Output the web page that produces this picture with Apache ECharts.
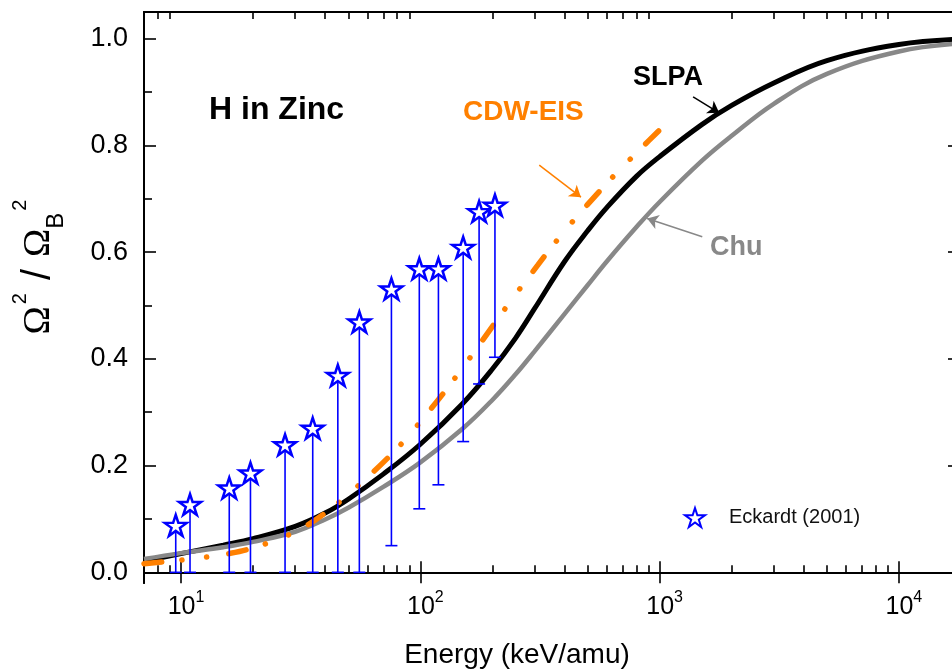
<!DOCTYPE html>
<html>
<head>
<meta charset="utf-8">
<script src="https://cdn.jsdelivr.net/npm/echarts@6/dist/echarts.min.js"></script>
<style>
html,body{margin:0;padding:0;background:#fff;}
#chart{width:952px;height:672px;}
</style>
</head>
<body>
<div id="chart"></div>
<script>
// ---- data ----
const energyCurve = [7,10,15,20,30,40,50,70,100,150,200,250,300,400,500,600,800,1000,1500,2000,3000,5000,10000,18000];
const slpa = [0.021,0.035,0.051,0.063,0.086,0.111,0.137,0.184,0.240,0.316,0.381,0.439,0.494,0.582,0.640,0.683,0.742,0.779,0.839,0.875,0.917,0.959,0.989,0.999];
const chu  = [0.025,0.036,0.047,0.057,0.076,0.099,0.121,0.160,0.206,0.269,0.323,0.371,0.414,0.484,0.538,0.582,0.647,0.694,0.771,0.818,0.878,0.934,0.976,0.991];
const energyCdw = [7,10,13,15,20,30,40,50,60,70,85,100,125,150,180,210,240,280,310,350,400,460,540,625,745,860,1000];
const cdwEis = [0.016,0.023,0.029,0.033,0.046,0.076,0.111,0.146,0.178,0.206,0.245,0.282,0.336,0.383,0.432,0.474,0.510,0.550,0.576,0.607,0.639,0.671,0.706,0.737,0.772,0.800,0.829];
const eckEnergy = [9.5,10.9,15.9,19.5,27.2,35.5,45.2,55.6,75.7,99,119,151,176,205];
const eckValue  = [0.088,0.127,0.158,0.186,0.239,0.270,0.369,0.469,0.531,0.569,0.569,0.609,0.676,0.688];
const eckLower  = [0,0,0,0,0,0,0,0,0.050,0.119,0.164,0.245,0.353,0.403];
const xMajorTicks = [10,100,1000,10000];
const xMinorTicks = [8,9,20,30,40,50,60,70,80,90,200,300,400,500,600,700,800,900,2000,3000,4000,5000,6000,7000,8000,9000];
const yMajorTicks = [0,0.2,0.4,0.6,0.8,1.0];
const yMinorTicks = [0.1,0.3,0.5,0.7,0.9];
// annotation arrows (data coords): [startE, startY, endE, endY]
const arrowSLPA = [1380,0.891,1774,0.861];
const arrowCDW  = [314,0.763,469,0.703];
const arrowChu  = [1507,0.629,887,0.663];

// ---- chart ----
const FONT = '"Liberation Sans", Arial, sans-serif';
const XMIN = 7, XMAX = 18000, YMIN = -0.02, YMAX = 1.05;
const starPath = 'path://M50 0 L61.23 34.55 L97.55 34.55 L68.16 55.9 L79.39 90.45 L50 69.1 L20.61 90.45 L31.84 55.9 L2.45 34.55 L38.77 34.55 Z';

const zip = (xs, ys) => xs.map((x, i) => [x, ys[i]]);
const lg = v => Math.log10(v);

function deco(pos, vals, len, labels) {
  const horiz = (pos === 'top' || pos === 'bottom');
  return {
    type: 'value', position: pos,
    min: horiz ? lg(XMIN) : YMIN,
    max: horiz ? lg(XMAX) : YMAX,
    axisLine: {show: true, lineStyle: {color: '#000', width: 2}},
    splitLine: {show: false},
    axisTick: {show: true, inside: true, length: len, customValues: vals, lineStyle: {color: '#000', width: 1.6}},
    axisLabel: labels || {show: false}
  };
}

const xLab = {
  show: true, customValues: xMajorTicks.map(lg), margin: 7, padding: [0,0,0,10],
  formatter: v => '{b|10}{s|' + Math.round(v) + '}',
  rich: {
    b: {fontFamily: FONT, fontSize: 25, lineHeight: 30, verticalAlign: 'bottom', color: '#000'},
    s: {fontFamily: FONT, fontSize: 16, lineHeight: 16, verticalAlign: 'top', color: '#000'}
  }
};
const yLab = {
  show: true, customValues: yMajorTicks, margin: 16, padding: [7,0,0,0],
  formatter: v => v.toFixed(1),
  fontFamily: FONT, fontSize: 27, color: '#000'
};

const chart = echarts.init(document.getElementById('chart'), null, {renderer: 'canvas'});

function arrow(a, color) {
  return {
    silent: true, symbol: ['none', 'arrow'], symbolSize: 11, animation: false,
    label: {show: false},
    lineStyle: {type: 'solid', width: 1.5, color: color, opacity: 1},
    itemStyle: {color: color},
    emphasis: {disabled: true},
    data: [[{coord: [a[0], a[1]]}, {coord: [a[2], a[3]]}]]
  };
}

const option = {
  animation: false,
  backgroundColor: '#fff',
  grid: {left: 144, top: 12, width: 816, height: 571, containLabel: false, outerBoundsMode: 'none'},
  xAxis: [
    {type: 'log', logBase: 10, min: XMIN, max: XMAX, show: false},
    deco('bottom', xMajorTicks.map(lg), 11, xLab),
    deco('bottom', xMinorTicks.map(lg), 7),
    deco('top', xMajorTicks.map(lg), 11),
    deco('top', xMinorTicks.map(lg), 7)
  ],
  yAxis: [
    deco('left', yMajorTicks, 12, yLab),
    deco('left', yMinorTicks, 8),
    deco('right', yMajorTicks, 12),
    deco('right', yMinorTicks, 8)
  ],
  legend: {
    data: ['Eckardt (2001)'], left: 679, top: 502, orient: 'vertical',
    itemWidth: 20, itemHeight: 20, icon: starPath,
    textStyle: {fontFamily: FONT, fontSize: 20, color: '#111', padding: [0,0,0,19]}
  },
  series: [
    {
      name: 'SLPA', type: 'line', xAxisIndex: 0, yAxisIndex: 0, data: zip(energyCurve, slpa),
      showSymbol: false, smooth: 0.4, lineStyle: {color: '#000', width: 5}, z: 3,
      markLine: arrow(arrowSLPA, '#000')
    },
    {
      name: 'Chu', type: 'line', xAxisIndex: 0, yAxisIndex: 0, data: zip(energyCurve, chu),
      showSymbol: false, smooth: 0.4, lineStyle: {color: '#888888', width: 4.5}, z: 4,
      markLine: arrow(arrowChu, '#888888')
    },
    {
      name: 'CDW-EIS', type: 'line', xAxisIndex: 0, yAxisIndex: 0, data: zip(energyCdw, cdwEis),
      showSymbol: false, smooth: 0.4,
      lineStyle: {color: '#ff8000', width: 5.5, cap: 'round', type: [18, 20, 0.1, 25, 0.1, 22]}, z: 5,
      markLine: arrow(arrowCDW, '#ff8000')
    },
    {
      name: 'errors', type: 'custom', xAxisIndex: 0, yAxisIndex: 0, z: 6,
      data: eckEnergy.map((e, i) => [e, eckValue[i], eckLower[i]]),
      renderItem: (params, api) => {
        const p = api.coord([api.value(0), api.value(1)]);
        const q = api.coord([api.value(0), api.value(2)]);
        const st = {stroke: '#0000ff', lineWidth: 1.6};
        return {type: 'group', children: [
          {type: 'line', shape: {x1: p[0], y1: p[1], x2: q[0], y2: q[1]}, style: st},
          {type: 'line', shape: {x1: q[0] - 6, y1: q[1], x2: q[0] + 6, y2: q[1]}, style: st}
        ]};
      }
    },
    {
      name: 'Eckardt (2001)', type: 'scatter', xAxisIndex: 0, yAxisIndex: 0, z: 7,
      data: zip(eckEnergy, eckValue), symbol: starPath, symbolSize: [22, 21],
      itemStyle: {color: '#ffffff', borderColor: '#0000ff', borderWidth: 2.5, opacity: 1}
    }
  ],
  graphic: [
    {type: 'text', x: 209, y: 110, silent: true,
     style: {text: 'H in Zinc', fontFamily: FONT, fontWeight: 'bold', fontSize: 32, fill: '#000', verticalAlign: 'middle'}},
    {type: 'text', x: 463, y: 112, silent: true,
     style: {text: 'CDW-EIS', fontFamily: FONT, fontWeight: 'bold', fontSize: 28, fill: '#ff8000', verticalAlign: 'middle'}},
    {type: 'text', x: 633, y: 78, silent: true,
     style: {text: 'SLPA', fontFamily: FONT, fontWeight: 'bold', fontSize: 27, fill: '#000', verticalAlign: 'middle'}},
    {type: 'text', x: 710, y: 248, silent: true,
     style: {text: 'Chu', fontFamily: FONT, fontWeight: 'bold', fontSize: 27, fill: '#888888', verticalAlign: 'middle'}},
    {type: 'text', x: 517, y: 655, silent: true,
     style: {text: 'Energy (keV/amu)', fontFamily: FONT, fontSize: 28, fill: '#000', align: 'center', verticalAlign: 'middle'}},
    {type: 'text', x: 39, y: 267, rotation: Math.PI / 2, silent: true,
     style: {
       text: '{o|Ω}{p|2}{t|/}{o|Ω}{b|B}{p|2}', align: 'center', verticalAlign: 'middle', fill: '#000',
       rich: {
         o: {fontFamily: '"Liberation Serif", "Times New Roman", serif', fontSize: 38, lineHeight: 58, verticalAlign: 'middle', fill: '#000'},
         p: {fontFamily: FONT, fontSize: 20, lineHeight: 15, verticalAlign: 'top', padding: [0,0,0,2], fill: '#000'},
         t: {fontFamily: FONT, fontSize: 40, lineHeight: 58, verticalAlign: 'middle', padding: [0,12,0,13], fill: '#000'},
         b: {fontFamily: FONT, fontSize: 24, lineHeight: 18, verticalAlign: 'bottom', fill: '#000'}
       }
     }}
  ]
};
chart.setOption(option);
</script>
</body>
</html>
